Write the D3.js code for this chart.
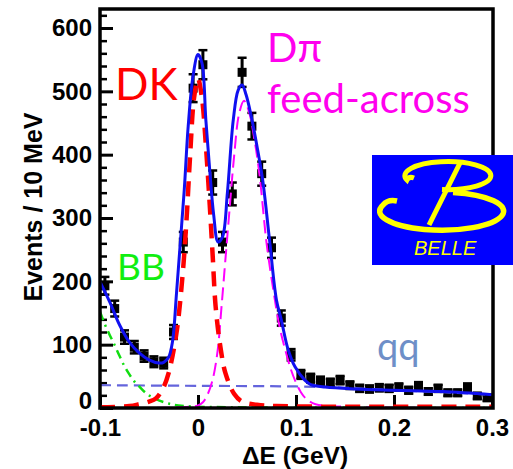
<!DOCTYPE html>
<html><head><meta charset="utf-8">
<script src="https://cdn.jsdelivr.net/npm/d3@7"></script>
<style>html,body{margin:0;padding:0;background:#fff;}svg{display:block;}</style>
</head><body>
<svg id="c" width="513" height="469"></svg>
<script>
// ---- data ----
const binCenters = [-0.095,-0.085,-0.075,-0.065,-0.055,-0.045,-0.035,-0.025,-0.015,-0.005,
  0.005,0.015,0.025,0.035,0.045,0.055,0.065,0.075,0.085,0.095,
  0.105,0.115,0.125,0.135,0.145,0.155,0.165,0.175,0.185,0.195,
  0.205,0.215,0.225,0.235,0.245,0.255,0.265,0.275,0.285,0.295];
const events = [193,157,112,96,82,73,71,120,262,505,
  542,356,262,338,530,445,370,253,142,84,
  53,47,43,40,44,36,31,30,32,31,
  33,28,35,26,31,24,24,33,19,16];
const errors = [14,12.5,10.6,9.8,9,8.5,8.4,11,16,22,
  23,19,16,18,23,21,19,16,12,9,
  7,7,6.5,6.3,6.6,6,5.6,5.5,5.7,5.6,
  5.7,5.3,5.9,5.1,5.6,4.9,4.9,5.7,4.4,4];

const totalFit = [[-0.1,199],[-0.09,167],[-0.08,131],[-0.07,104],[-0.06,87],[-0.05,76],[-0.04,71],[-0.035,72],[-0.03,80],[-0.026,105],[-0.022,180],[-0.018,262],[-0.014,345],[-0.01,445],[-0.005,525],[0,558],[0.004,545],[0.008,455],[0.012,375],[0.016,305],[0.0205,262],[0.025,270],[0.03,340],[0.036,455],[0.041,502],[0.045,510],[0.049,495],[0.054,463],[0.06,415],[0.066,360],[0.073,265],[0.08,171],[0.085,139],[0.092,92],[0.099,65],[0.109,44],[0.115,37],[0.13,33],[0.16,30],[0.2,28],[0.25,26],[0.3,21]];
const dkCurve = [[-0.1,1],[-0.07,3],[-0.06,6],[-0.05,10],[-0.043,15],[-0.036,30],[-0.03,55],[-0.022,118],[-0.016,205],[-0.012,290],[-0.008,400],[-0.004,490],[0,520],[0.004,490],[0.008,415],[0.012,320],[0.015,240],[0.018,160],[0.023,95],[0.028,55],[0.037,22],[0.045,10],[0.06,5],[0.08,3],[0.3,2]];
const dpiCurve = [[-0.1,0],[-0.02,1],[0,4],[0.005,9],[0.01,22],[0.015,45],[0.02,90],[0.024,160],[0.028,235],[0.032,310],[0.037,400],[0.042,465],[0.047,485],[0.052,468],[0.058,420],[0.063,365],[0.07,260],[0.077,185],[0.083,130],[0.089,92],[0.095,60],[0.1,40],[0.105,25],[0.11,15],[0.12,6],[0.15,2],[0.3,0]];
const bbCurve = [[-0.1,152],[-0.095,132],[-0.09,115],[-0.085,99],[-0.08,82],[-0.075,66],[-0.07,53],[-0.065,42],[-0.06,34],[-0.055,26],[-0.05,20],[-0.045,16],[-0.04,12],[-0.03,7],[-0.02,4],[0,2],[0.3,0]];
const qqCurve = [[-0.1,36],[0.0,35],[0.1,34],[0.15,32],[0.2,28],[0.25,25],[0.3,21]];

const yTicks = [0,100,200,300,400,500,600];
const yMinorTicks = [20,40,60,80,120,140,160,180,220,240,260,280,320,340,360,380,420,440,460,480,520,540,560,580,620];
const xTicks = [-0.1,0,0.1,0.2,0.3];
const xTickLabels = ["-0.1","0","0.1","0.2","0.3"];

// ---- drawing ----
const svg = d3.select("#c");
const L = 100, R = 493, T = 9, B = 408;
const x = d3.scaleLinear().domain([-0.1,0.3]).range([100,492]);
const y = d3.scaleLinear().domain([0,600]).range([408,28]);

svg.append("rect").attr("width",513).attr("height",469).attr("fill","#fff");

svg.append("defs").append("clipPath").attr("id","clip")
  .append("rect").attr("x",L).attr("y",T).attr("width",R-L).attr("height",B-T);

const tickFont = "'Liberation Sans', Arial, sans-serif";

// minor y ticks
const yMinor = d3.axisLeft(y).tickValues(yMinorTicks).tickSizeInner(-7).tickSizeOuter(0).tickFormat("");
svg.append("g").attr("transform",`translate(${L},0)`).call(yMinor)
  .call(g=>g.select(".domain").remove())
  .call(g=>g.selectAll("line").attr("stroke","#000").attr("stroke-width",2.5));
// major y ticks
const yAxis = d3.axisLeft(y).tickValues(yTicks).tickSizeInner(-13).tickSizeOuter(0).tickPadding(8);
svg.append("g").attr("transform",`translate(${L},0)`).call(yAxis)
  .call(g=>g.select(".domain").remove())
  .call(g=>g.selectAll("line").attr("stroke","#000").attr("stroke-width",3))
  .call(g=>g.selectAll("text").attr("font-family",tickFont).attr("font-weight","bold").attr("font-size",24).attr("fill","#000")
     .attr("y",d=>d===0?-7:0));
// x ticks
const xAxis = d3.axisBottom(x).tickValues(xTicks).tickSizeInner(-13).tickSizeOuter(0).tickPadding(11)
  .tickFormat((d,i)=>xTickLabels[i]);
svg.append("g").attr("transform",`translate(0,${B})`).call(xAxis)
  .call(g=>g.select(".domain").remove())
  .call(g=>g.selectAll("line").attr("stroke","#000").attr("stroke-width",3))
  .call(g=>g.selectAll("text").attr("font-family",tickFont).attr("font-weight","bold").attr("font-size",24).attr("fill","#000"));

// axis titles
svg.append("text").attr("transform","translate(42,207) rotate(-90)").attr("text-anchor","middle")
  .attr("font-family",tickFont).attr("font-weight","bold").attr("font-size",25).text("Events / 10 MeV");
svg.append("text").attr("x",295).attr("y",463.5).attr("text-anchor","middle")
  .attr("font-family",tickFont).attr("font-weight","bold").attr("font-size",24.5).text("ΔE (GeV)");

// data points
const plot = svg.append("g").attr("clip-path","url(#clip)");
const pts = plot.append("g");
binCenters.forEach((c,i)=>{
  const cx = x(c), v = events[i], e = errors[i];
  pts.append("line").attr("x1",cx).attr("x2",cx).attr("y1",y(v+e)).attr("y2",y(v-e)).attr("stroke","#000").attr("stroke-width",3);
  pts.append("line").attr("x1",cx-4.5).attr("x2",cx+4.5).attr("y1",y(v+e)).attr("y2",y(v+e)).attr("stroke","#000").attr("stroke-width",2.5);
  pts.append("line").attr("x1",cx-4.5).attr("x2",cx+4.5).attr("y1",y(v-e)).attr("y2",y(v-e)).attr("stroke","#000").attr("stroke-width",2.5);
  pts.append("rect").attr("x",cx-4.5).attr("y",y(v)-4.5).attr("width",9).attr("height",9).attr("fill","#000");
});

// curves
const line = d3.line().x(d=>x(d[0])).y(d=>y(d[1])).curve(d3.curveCatmullRom.alpha(0.5));
plot.append("path").datum(qqCurve).attr("d",line).attr("fill","none").attr("stroke","#6464dc").attr("stroke-width",2.2).attr("stroke-dasharray","11,6");
plot.append("path").datum(bbCurve).attr("d",line).attr("fill","none").attr("stroke","#11dd11").attr("stroke-width",2.5).attr("stroke-dasharray","9,5,2,5");
plot.append("path").datum(dpiCurve).attr("d",line).attr("fill","none").attr("stroke","#ff00ff").attr("stroke-width",2).attr("stroke-dasharray","13,6");
plot.append("path").datum(dkCurve).attr("d",line).attr("fill","none").attr("stroke","#ff0000").attr("stroke-width",4.5).attr("stroke-dasharray","15,9");
plot.append("path").datum(totalFit).attr("d",line).attr("fill","none").attr("stroke","#1010f0").attr("stroke-width",3);

// frame
svg.append("rect").attr("x",L).attr("y",T).attr("width",R-L).attr("height",B-T)
  .attr("fill","none").attr("stroke","#000").attr("stroke-width",3.5);

// annotations
const annFont = "Lato, 'Noto Sans', sans-serif";
svg.append("text").attr("x",115).attr("y",100).attr("font-family",annFont).attr("font-size",44).attr("fill","#ff0000").text("DK");
svg.append("text").attr("x",117).attr("y",280).attr("font-family",annFont).attr("font-size",37).attr("fill","#11ee11").text("BB");
svg.append("text").attr("x",267).attr("y",62).attr("font-family",annFont).attr("font-size",40).attr("fill","#ff00ee").text("Dπ");
svg.append("text").attr("x",267).attr("y",113).attr("font-family",annFont).attr("font-size",40).attr("fill","#ff00ee").text("feed-across");
svg.append("text").attr("x",377).attr("y",360).attr("font-family",annFont).attr("font-size",38).attr("fill","#6e8fc8").text("qq");

// Belle logo
const logo = svg.append("g");
logo.append("rect").attr("x",372).attr("y",155).attr("width",141).attr("height",110).attr("fill","#0000ff");
const yel = "#ffff00";
logo.append("path").attr("d","M414,178 Q409,176 407,180 A43,14 0 1 1 442,189.5").attr("fill","none").attr("stroke",yel).attr("stroke-width",5);
logo.append("path").attr("d","M397,201 Q388,199 383,205 A62,19 0 1 0 453,192.5").attr("fill","none").attr("stroke",yel).attr("stroke-width",5.5);
logo.append("path").attr("d","M460,163 L429,225").attr("fill","none").attr("stroke",yel).attr("stroke-width",5);
logo.append("text").attr("x",414).attr("y",255).attr("font-family","'Liberation Sans', Arial, sans-serif").attr("font-style","italic").attr("font-size",20).attr("fill",yel).text("BELLE");
</script>
</body></html>
